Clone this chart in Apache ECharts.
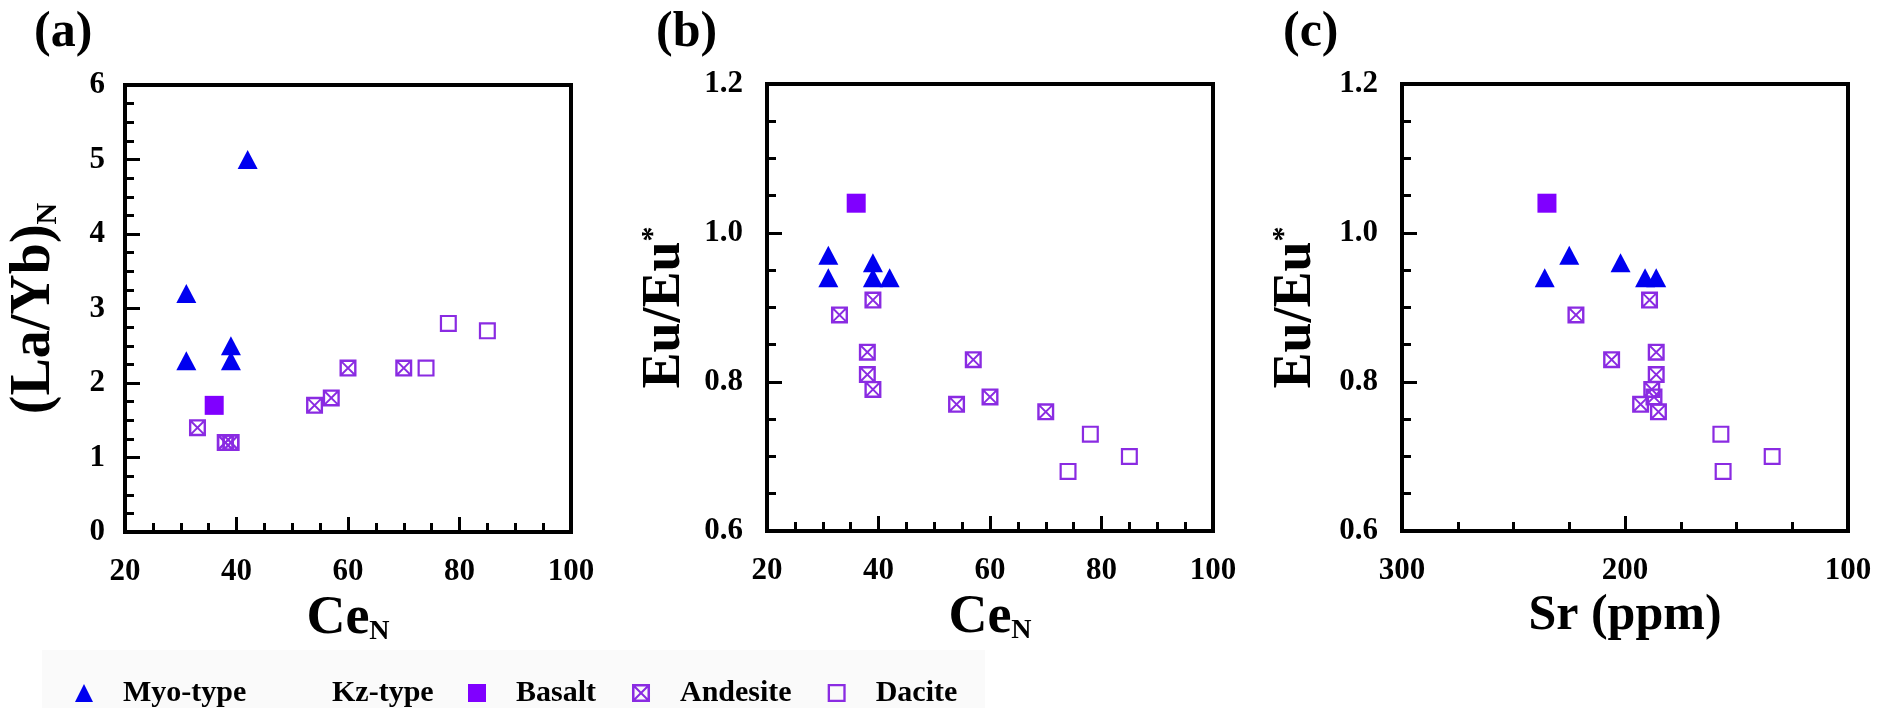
<!DOCTYPE html>
<html><head><meta charset="utf-8">
<script src="https://cdn.jsdelivr.net/npm/echarts@6/dist/echarts.min.js"></script>
<style>html,body{margin:0;padding:0;background:#fff}#c{width:1879px;height:708px}</style>
</head><body><div id="c"></div>
<script>
// ---- data ----
const myoCe    = [31, 31, 39, 39, 42];
const myoLaYb  = [3.2, 2.3, 2.5, 2.3, 5.0];
const myoEu    = [0.97, 0.94, 0.96, 0.94, 0.94];
const myoSr    = [225, 236, 202, 191, 186];

const basaltCe   = [36];
const basaltLaYb = [1.7];
const basaltEu   = [1.04];
const basaltSr   = [235];

const andesiteCe   = [33, 38, 38, 39, 39, 54, 57, 60, 70];
const andesiteLaYb = [1.4, 1.2, 1.2, 1.2, 1.2, 1.7, 1.8, 2.2, 2.2];
const andesiteEu   = [0.89, 0.84, 0.81, 0.91, 0.79, 0.77, 0.83, 0.78, 0.76];
const andesiteSr   = [222, 186, 186, 189, 188, 193, 206, 187, 185];

const daciteCe   = [74, 78, 85];
const daciteLaYb = [2.2, 2.8, 2.7];
const daciteEu   = [0.68, 0.73, 0.70];
const daciteSr   = [156, 157, 134];

const panelLabels = ['(a)', '(b)', '(c)'];
const ceTicks = [20, 100, 20];
const srTicks = [100, 300, 100];
const laybTicks = [0, 6, 1];
const euTicks = [0.6, 1.2, 0.2];

// ---- style ----
const FONT = 'Liberation Serif, Times New Roman, serif';
const BLUE = '#0000f0';
const PURPLE = '#8000ff';
const VIOLET = '#8a2be2';
const ANDESITE_SYM = 'path://M0 0H100V100H0Z M14 14V86H86V14Z M14 14L22 14L86 78L86 86L78 86L14 22Z M86 14L86 22L22 86L14 86L14 78L78 14Z';
const DACITE_SYM = 'path://M0 0H100V100H0Z M13 13V87H87V13Z';

const zip = (xs, ys) => xs.map((x, i) => [x, ys[i]]);

const grids = [
  {left: 125, top: 85, width: 446, height: 447},
  {left: 767, top: 84, width: 446, height: 447},
  {left: 1402, top: 84, width: 446, height: 447}
].map(g => Object.assign(g, {show: true, borderColor: '#000', borderWidth: 4, backgroundColor: 'transparent'}));

const tickCommon = {
  axisLine: {show: false},
  axisTick: {show: true, inside: true, length: 15, lineStyle: {color: '#000', width: 3}},
  minorTick: {show: true, splitNumber: 4, length: 9, lineStyle: {color: '#000', width: 3}},
  splitLine: {show: false},
  minorSplitLine: {show: false}
};
const labelStyle = (margin, fmt) => {
  const s = {margin, color: '#000', fontFamily: FONT, fontWeight: 'bold', fontSize: 31,
    showMinLabel: true, showMaxLabel: true};
  if (fmt) s.formatter = fmt;
  return s;
};
const T = {fontFamily: FONT, fontWeight: 'bold', color: '#000'};
const nameRich = {
  m: Object.assign({fontSize: 54, lineHeight: 54}, T),
  s: Object.assign({fontSize: 28, lineHeight: 28, verticalAlign: 'bottom'}, T),
  sr: Object.assign({fontSize: 50, lineHeight: 50}, T),
  sup: Object.assign({fontSize: 30, lineHeight: 30, verticalAlign: 'top'}, T),
  y: Object.assign({fontSize: 56, lineHeight: 56}, T),
  e: Object.assign({fontSize: 54, lineHeight: 54}, T),
  ys: Object.assign({fontSize: 30, lineHeight: 30, verticalAlign: 'bottom'}, T)
};

const xAxes = [
  Object.assign({gridIndex: 0, type: 'value', min: ceTicks[0], max: ceTicks[1], interval: ceTicks[2],
    axisLabel: labelStyle(24), name: '{m|Ce}{s|N}', nameLocation: 'middle', nameGap: 58,
    nameTextStyle: {rich: nameRich}}, tickCommon),
  Object.assign({gridIndex: 1, type: 'value', min: ceTicks[0], max: ceTicks[1], interval: ceTicks[2],
    axisLabel: labelStyle(24), name: '{m|Ce}{s|N}', nameLocation: 'middle', nameGap: 58,
    nameTextStyle: {rich: nameRich}}, tickCommon),
  Object.assign({gridIndex: 2, type: 'value', min: srTicks[0], max: srTicks[1], interval: srTicks[2], inverse: true,
    axisLabel: labelStyle(24), name: '{sr|Sr (ppm)}', nameLocation: 'middle', nameGap: 60,
    nameTextStyle: {rich: nameRich}}, tickCommon)
];
const yAxes = [
  Object.assign({gridIndex: 0, type: 'value', min: laybTicks[0], max: laybTicks[1], interval: laybTicks[2],
    axisLabel: labelStyle(20), name: '{y|(La/Yb)}{ys|N}', nameLocation: 'middle', nameGap: 62,
    nameTextStyle: {rich: nameRich}}, tickCommon),
  Object.assign({gridIndex: 1, type: 'value', min: euTicks[0], max: euTicks[1], interval: euTicks[2],
    axisLabel: labelStyle(24, v => v.toFixed(1)), name: '{e|Eu/Eu}{sup|*}', nameLocation: 'middle', nameGap: 75,
    nameTextStyle: {rich: nameRich}}, tickCommon),
  Object.assign({gridIndex: 2, type: 'value', min: euTicks[0], max: euTicks[1], interval: euTicks[2],
    axisLabel: labelStyle(24, v => v.toFixed(1)), name: '{e|Eu/Eu}{sup|*}', nameLocation: 'middle', nameGap: 79,
    nameTextStyle: {rich: nameRich}}, tickCommon)
];

const panels = [
  {myo: zip(myoCe, myoLaYb), bas: zip(basaltCe, basaltLaYb), and: zip(andesiteCe, andesiteLaYb), dac: zip(daciteCe, daciteLaYb)},
  {myo: zip(myoCe, myoEu), bas: zip(basaltCe, basaltEu), and: zip(andesiteCe, andesiteEu), dac: zip(daciteCe, daciteEu)},
  {myo: zip(myoSr, myoEu), bas: zip(basaltSr, basaltEu), and: zip(andesiteSr, andesiteEu), dac: zip(daciteSr, daciteEu)}
];
const series = [];
panels.forEach((p, i) => {
  const ax = {xAxisIndex: i, yAxisIndex: i, type: 'scatter', silent: true};
  series.push(Object.assign({name: 'Andesite', data: p.and, symbol: ANDESITE_SYM, symbolSize: 17, itemStyle: {color: VIOLET, opacity: 1}}, ax));
  series.push(Object.assign({name: 'Dacite', data: p.dac, symbol: DACITE_SYM, symbolSize: 17, itemStyle: {color: VIOLET, opacity: 1}}, ax));
  series.push(Object.assign({name: 'Basalt', data: p.bas, symbol: 'rect', symbolSize: 19, itemStyle: {color: PURPLE, opacity: 1}}, ax));
  series.push(Object.assign({name: 'Myo-type', data: p.myo, symbol: 'triangle', symbolSize: [20, 19], itemStyle: {color: BLUE, opacity: 1}}, ax));
});

const legendText = {color: '#000', fontFamily: FONT, fontWeight: 'bold', fontSize: 30, padding: [0, 0, 0, 25]};
const titleLeft = [34, 656, 1283];

const option = {
  backgroundColor: '#fff',
  animation: false,
  textStyle: {fontFamily: FONT, fontWeight: 'bold', color: '#000'},
  title: panelLabels.map((t, i) => ({
    text: t, left: titleLeft[i], top: 8, padding: 0,
    textStyle: {fontFamily: FONT, fontWeight: 'bold', fontSize: 50, color: '#000'}
  })),
  grid: grids,
  xAxis: xAxes,
  yAxis: yAxes,
  legend: [
    {data: ['Myo-type'], left: 75, top: 678, padding: 0, itemWidth: 18, itemHeight: 18,
     selectedMode: false, textStyle: Object.assign({}, legendText, {padding: [0, 0, 0, 25]})},
    {data: ['Basalt', 'Andesite', 'Dacite'], left: 468, top: 678, padding: 0, itemWidth: 18, itemHeight: 18,
     itemGap: 36, selectedMode: false, textStyle: legendText}
  ],
  graphic: [
    {type: 'rect', left: 42, top: 650, z: -10, shape: {width: 943, height: 58}, style: {fill: '#fafafa'}},
    {type: 'text', left: 332, top: 678, style: {text: 'Kz-type', fontFamily: FONT, fontWeight: 'bold', fontSize: 30, fill: '#000'}}
  ],
  series
};

const chart = echarts.init(document.getElementById('c'), null, {renderer: 'canvas'});
chart.setOption(option);
</script>
</body></html>
